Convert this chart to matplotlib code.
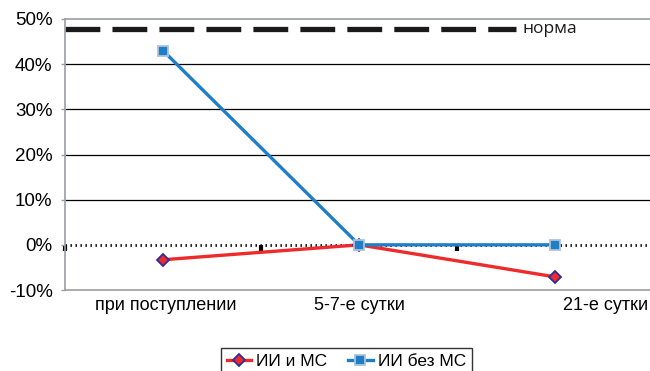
import matplotlib
matplotlib.use("Agg")
import matplotlib.pyplot as plt
from matplotlib.ticker import FuncFormatter
from matplotlib.transforms import ScaledTranslation

plt.rcParams['font.family'] = ['Liberation Sans', 'DejaVu Sans']

categories = ["при поступлении", "5-7-е сутки", "21-е сутки"]
series_mc = [-3.3, 0.0, -7.1]        # ИИ и МС, %
series_no_mc = [43.0, 0.0, 0.0]      # ИИ без МС, %
norm_value = 47.7                    # норма, %
norm_label = "норма"
legend_labels = ["ИИ и МС", "ИИ без МС"]
y_ticks = [-10, 0, 10, 20, 30, 40, 50]

fig = plt.figure(figsize=(6.5, 3.71), dpi=100)
ax = fig.add_axes([0.1, 0.2183, 0.905, 0.7305])

x = list(range(len(categories)))
ax.set_xlim(-0.5, len(categories) - 0.5)
ax.set_ylim(-10, 50)

# horizontal grid in black, zero line dotted
for v in y_ticks:
    if 0 < v < 50:
        ax.axhline(v, color="black", lw=0.9, zorder=1)
ax.axhline(0, color="black", lw=2.0, ls=(0, (0.5, 1.3)), zorder=1)

# norm reference line with its label
ax.hlines(norm_value, -0.5, 1.8, colors="#1a1a1a", lw=3.8,
          linestyles=[(0, (6.6, 2.3))], zorder=2)
ax.text(1.835, norm_value, norm_label, va="center", ha="left",
        fontsize=12.5, family=["Open Sans", "DejaVu Sans"], color="#1a1a1a")

l1, = ax.plot(x, series_mc, color="#EE2A2A", lw=2.4, marker="D", ms=6,
              mfc="#EE2A2A", mec="#2E2E9A", mew=1.3, zorder=4)
l2, = ax.plot(x, series_no_mc, color="#1F7EC6", lw=2.4, marker="s", ms=7.5,
              mfc="#1F7EC6", mec="#AFC3D9", mew=1.3, zorder=5)

# spines
for s in ["left", "top", "bottom"]:
    ax.spines[s].set_color("#9a9ea3")
    ax.spines[s].set_linewidth(1.2)
ax.spines["right"].set_visible(False)

ax.set_yticks(y_ticks)
ax.yaxis.set_major_formatter(FuncFormatter(lambda v, p: f"{v:.0f}%"))
ax.tick_params(axis="y", length=3, width=1, color="#9a9ea3", labelsize=13.5, pad=6)

ax.set_xticks(x)
ax.set_xticklabels(categories)
ax.tick_params(axis="x", length=0, labelsize=13, pad=5)

# the last category label sits to the right of its point
lbls = ax.get_xticklabels()
lbls[0].set_transform(lbls[0].get_transform() + ScaledTranslation(0.03, 0, fig.dpi_scale_trans))
lbls[-1].set_transform(lbls[-1].get_transform() + ScaledTranslation(0.5, 0, fig.dpi_scale_trans))

# category-axis ticks sitting on the zero line
sec = ax.secondary_xaxis(10 / 60)
sec.set_xticks([-0.5, 0.5, 1.5, 2.5])
sec.set_xticklabels([])
sec.tick_params(axis="x", direction="out", length=4, width=3, color="black")
sec.spines["bottom"].set_visible(False)

leg = fig.legend([l1, l2], legend_labels, loc="upper center", ncol=2,
                 bbox_to_anchor=(0.533, 1 - 348 / 371), frameon=True,
                 fancybox=False, fontsize=12.5, handlelength=1.4,
                 handletextpad=0.3, columnspacing=1.2, borderpad=0.35,
                 borderaxespad=0)
leg.get_frame().set_edgecolor("black")
leg.get_frame().set_linewidth(1.0)

fig.savefig("out.png", dpi=100)
